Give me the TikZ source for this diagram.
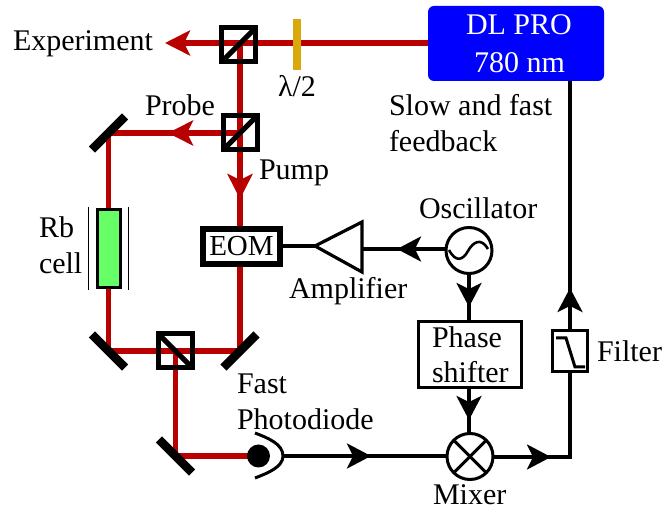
\documentclass[tikz,border=0pt]{standalone}
\usepackage{fontspec}
\setmainfont{Liberation Serif}
\usetikzlibrary{arrows.meta}
\pgfdeclarelayer{background}
\pgfsetlayers{background,main}
\tikzset{
  beam/.style={draw=beamred,line width=5.2pt},
  wire/.style={draw=black,line width=3.2pt},
  redhead/.style={-{Stealth[length=25pt,width=25pt,inset=6pt]}},
  blackhead/.style={-{Stealth[length=24pt,width=25pt,inset=6pt]}},
  cube/.style={draw=black,line width=5pt,minimum size=34pt,inner sep=0pt,outer sep=0pt},
  mirror/.style={fill=black,minimum width=47pt,minimum height=8.5pt,inner sep=0pt,outer sep=0pt},
  lbl/.style={anchor=base west,inner sep=0pt,outer sep=0pt,font=\fontsize{30}{30}\selectfont},
  roundcomp/.style={circle,draw=black,line width=3pt,fill=white,inner sep=0pt,outer sep=0pt},
}
\definecolor{beamred}{HTML}{B90000}
\definecolor{plategold}{HTML}{D9A80A}
\definecolor{cellgreen}{HTML}{66FF66}
\begin{document}
\begin{tikzpicture}[x=1pt,y=-1pt]
\useasboundingbox (0,0) rectangle (662,510);
% laser
\node[fill=blue,rounded corners=6pt,minimum width=176pt,minimum height=75pt,inner sep=0pt,outer sep=0pt] (dl) at (516,43.5) {};
\node[lbl,text=white] (dltext) at (466,34.5) {DL PRO};
\node[lbl,text=white] (dlnm) at (474,72.5) {780 nm};
% optics
\node[cube] (bsa) at (238.5,45) {};
\draw[line width=5pt] (bsa.south west) -- (bsa.north east);
\node[cube] (bsb) at (240,133) {};
\draw[line width=5pt] (bsb.south west) -- (bsb.north east);
\node[cube] (bsc) at (175.5,351) {};
\draw[line width=5pt] (bsc.north west) -- (bsc.south east);
\node[fill=plategold,minimum width=8pt,minimum height=51pt,inner sep=0pt,outer sep=0pt] (plate) at (297,44.5) {};
\node[mirror,rotate=45] (ma) at (108.5,133) {};
\node[mirror,rotate=-45] (mb) at (108.5,351) {};
\node[mirror,rotate=45] (mc) at (240,351) {};
\node[mirror,rotate=-45] (md) at (175.5,456) {};
% Rb cell
\node[draw=black,fill=cellgreen,line width=3pt,minimum width=23pt,minimum height=78pt,inner sep=0pt,outer sep=0pt] (cell) at (108.5,249) {};
\coordinate (wallLa) at (88.5,207);
\coordinate (wallLb) at (88.5,290);
\coordinate (wallRa) at (128.5,207);
\coordinate (wallRb) at (128.5,290);
\draw[line width=1.6pt] (wallLa) -- (wallLb);
\draw[line width=1.6pt] (wallRa) -- (wallRb);
% EOM
\node[draw=black,fill=white,line width=6pt,minimum width=77pt,minimum height=35pt,inner sep=0pt,outer sep=0pt,font=\fontsize{29}{29}\selectfont] (eom) at (241.5,246.5) {EOM};
% amplifier
\coordinate (ampT) at (315,246);
\coordinate (ampA) at (362,222);
\coordinate (ampB) at (362,272);
\coordinate (ampM) at (362,249);
\draw[wire,line join=miter] (ampT) -- (ampA) -- (ampB) -- cycle;
% oscillator
\node[roundcomp,minimum size=46pt] (osc) at (469,250.5) {};
\coordinate (sinA) at (449,250);
\coordinate (sinB) at (488,249);
\draw[line width=2.6pt] (sinA) .. controls (456,263) and (463,260) .. (468,251) .. controls (473,242) and (481,237) .. (sinB);
% phase shifter
\node[draw=black,line width=3pt,minimum width=103pt,minimum height=66pt,inner sep=0pt,outer sep=0pt] (phase) at (469.5,355) {};
% mixer
\node[roundcomp,minimum size=46pt] (mix) at (470,456.5) {};
\draw[line width=3pt] (mix.45) -- (mix.225);
\draw[line width=3pt] (mix.135) -- (mix.315);
% filter
\node[draw=black,line width=3pt,minimum width=35pt,minimum height=41pt,inner sep=0pt,outer sep=0pt,fill=white] (filt) at (570,351.5) {};
\coordinate (fa) at (556,338);
\coordinate (fb) at (566,338);
\coordinate (fc) at (575,367);
\coordinate (fd) at (585,367);
\draw[line width=3pt] (fa) -- (fb) -- (fc) -- (fd);
% photodiode
\node[circle,fill=black,minimum size=23pt,inner sep=0pt,outer sep=0pt] (pd) at (258.5,456) {};
\coordinate (pdU) at (255,433);
\coordinate (pdL) at (255,478);
\coordinate (pdO) at (283,456);
\draw[line width=3pt] (pdU) .. controls (268,438) and (283,444) .. (pdO) .. controls (283,467) and (268,473) .. (pdL);
% way points
\coordinate (tipExp) at (165,43);
\coordinate (tipProbe) at (168,133);
\coordinate (tipPump) at (240,199);
\coordinate (tipPD) at (371,456);
\coordinate (tipMix) at (551,457);
\coordinate (corner) at (570,457);
\coordinate (tipUp) at (570,288);
\coordinate (tipOA) at (397,249);
\coordinate (tipOP) at (469,307);
\coordinate (tipPM) at (469,420);
\begin{pgfonlayer}{background}
  \draw[beam,redhead] (dl.west |- tipExp) -- (tipExp);
  \draw[beam] (bsa.north -| bsb) ++(0,14) -- (bsb.center);
  \draw[beam,redhead] (bsb.center) -- (tipProbe);
  \draw[beam] (bsb.center) -- (ma.center);
  \draw[beam] (ma.center) -- (cell);
  \draw[beam] (cell) -- (mb.center);
  \draw[beam] (mb.center) -- (bsc.center);
  \draw[beam] (bsc.center) -- (mc.center);
  \draw[beam] (bsc.center) -- (md.center);
  \draw[beam] (md.center) -- (pd.center);
  \draw[beam,redhead] (bsb.center) -- (tipPump);
  \draw[beam] (bsb.center) -- (tipPump |- eom.north);
  \draw[beam] (tipPump |- eom.south) -- (mc.center);
  \draw[wire] (pdO) -- (mix.west |- pdO);
  \draw[wire] (mix.east |- corner) -- (corner) -- (filt);
  \draw[wire] (filt) -- (dl.south -| filt);
  \draw[wire] (tipOP |- osc.south) -- (tipOP |- phase.north);
  \draw[wire] (tipPM |- phase.south) -- (tipPM |- mix.north);
  \draw[wire] (osc.west |- ampM) -- (ampM);
  \draw[wire] (ampT) -- (eom.east |- ampT);
\end{pgfonlayer}
\draw[wire,blackhead] (pdO) -- (tipPD);
\draw[wire,blackhead] (mix.east |- corner) -- (tipMix);
\draw[wire,blackhead] (filt) -- (tipUp);
\draw[wire,blackhead] (osc.west |- tipOA) -- (tipOA);
\draw[wire,blackhead] (tipOP |- osc.south) -- (tipOP);
\draw[wire,blackhead] (tipPM |- phase.south) -- (tipPM);
% labels
\node[lbl] (tExp) at (13,50.5) {Experiment};
\node[lbl] (tWave) at (278,97) {λ/2};
\node[lbl] (tProbe) at (145,116) {Probe};
\node[lbl] (tPump) at (259,179.5) {Pump};
\node[lbl] (tRb) at (39,237.5) {Rb};
\node[lbl] (tCell) at (39,273.5) {cell};
\node[lbl] (tSlow) at (389,115.5) {Slow and fast};
\node[lbl] (tFeed) at (389,151.5) {feedback};
\node[lbl] (tOsc) at (419,218.5) {Oscillator};
\node[lbl] (tAmp) at (289,298.5) {Amplifier};
\node[lbl] (tPhase) at (432,347.5) {Phase};
\node[lbl] (tShift) at (432,382.5) {shifter};
\node[lbl] (tFilt) at (597,361.5) {Filter};
\node[lbl] (tFast) at (237,393.5) {Fast};
\node[lbl] (tPD) at (237,429.5) {Photodiode};
\node[lbl] (tMix) at (433,504.5) {Mixer};
\end{tikzpicture}
\end{document}
